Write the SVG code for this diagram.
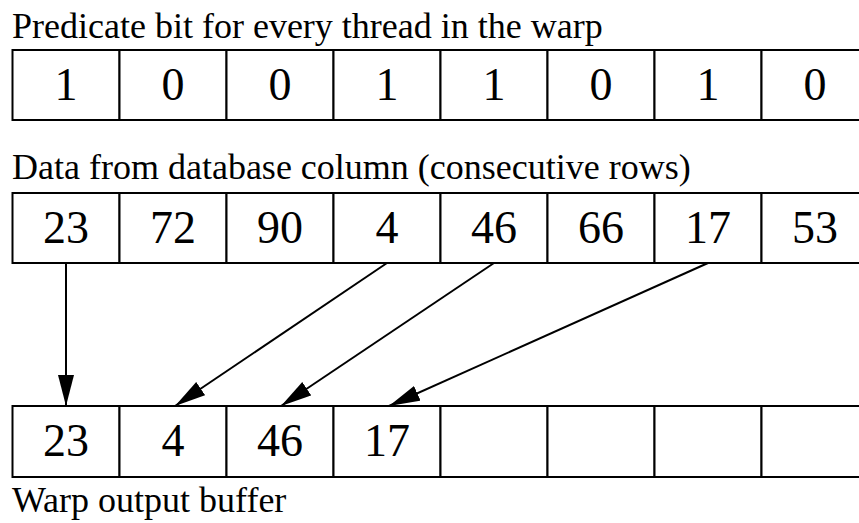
<svg xmlns="http://www.w3.org/2000/svg" width="859" height="523" viewBox="0 0 859 523">
  <style>
    .cell { fill: #ffffff; stroke: #000000; stroke-width: 2; }
    .val { font-family: "Liberation Serif", "Times New Roman", serif; font-size: 46px; fill: #000000; text-anchor: middle; }
    .cap { font-family: "Liberation Serif", "Times New Roman", serif; font-size: 36px; fill: #000000; }
    .edge { stroke: #000000; stroke-width: 2; fill: none; marker-end: url(#head); }
  </style>
  <defs>
    <marker id="head" markerUnits="userSpaceOnUse" markerWidth="32" markerHeight="18" refX="31" refY="8" orient="auto">
      <path d="M0,0 L31,8 L0,16 Z" fill="#000000"/>
    </marker>
  </defs>
  <rect width="859" height="523" fill="#ffffff"/>

  <!-- predicate row -->
  <g id="predicate">
    <text class="cap" x="12" y="38">Predicate bit for every thread in the warp</text>
    <rect class="cell" x="12.5" y="50" width="107" height="70"/>
    <rect class="cell" x="119.5" y="50" width="107" height="70"/>
    <rect class="cell" x="226.5" y="50" width="107" height="70"/>
    <rect class="cell" x="333.5" y="50" width="107" height="70"/>
    <rect class="cell" x="440.5" y="50" width="107" height="70"/>
    <rect class="cell" x="547.5" y="50" width="107" height="70"/>
    <rect class="cell" x="654.5" y="50" width="107" height="70"/>
    <rect class="cell" x="761.5" y="50" width="107" height="70"/>
    <text class="val" x="66" y="100">1</text>
    <text class="val" x="173" y="100">0</text>
    <text class="val" x="280" y="100">0</text>
    <text class="val" x="387" y="100">1</text>
    <text class="val" x="494" y="100">1</text>
    <text class="val" x="601" y="100">0</text>
    <text class="val" x="708" y="100">1</text>
    <text class="val" x="815" y="100">0</text>
  </g>

  <!-- data row -->
  <g id="data">
    <text class="cap" x="12" y="179">Data from database column (consecutive rows)</text>
    <rect class="cell" x="12.5" y="193" width="107" height="70"/>
    <rect class="cell" x="119.5" y="193" width="107" height="70"/>
    <rect class="cell" x="226.5" y="193" width="107" height="70"/>
    <rect class="cell" x="333.5" y="193" width="107" height="70"/>
    <rect class="cell" x="440.5" y="193" width="107" height="70"/>
    <rect class="cell" x="547.5" y="193" width="107" height="70"/>
    <rect class="cell" x="654.5" y="193" width="107" height="70"/>
    <rect class="cell" x="761.5" y="193" width="107" height="70"/>
    <text class="val" x="66" y="243">23</text>
    <text class="val" x="173" y="243">72</text>
    <text class="val" x="280" y="243">90</text>
    <text class="val" x="387" y="243">4</text>
    <text class="val" x="494" y="243">46</text>
    <text class="val" x="601" y="243">66</text>
    <text class="val" x="708" y="243">17</text>
    <text class="val" x="815" y="243">53</text>
  </g>

  <!-- output buffer row -->
  <g id="output">
    <rect class="cell" x="12.5" y="406" width="107" height="71"/>
    <rect class="cell" x="119.5" y="406" width="107" height="71"/>
    <rect class="cell" x="226.5" y="406" width="107" height="71"/>
    <rect class="cell" x="333.5" y="406" width="107" height="71"/>
    <rect class="cell" x="440.5" y="406" width="107" height="71"/>
    <rect class="cell" x="547.5" y="406" width="107" height="71"/>
    <rect class="cell" x="654.5" y="406" width="107" height="71"/>
    <rect class="cell" x="761.5" y="406" width="107" height="71"/>
    <text class="val" x="66" y="456">23</text>
    <text class="val" x="173" y="456">4</text>
    <text class="val" x="280" y="456">46</text>
    <text class="val" x="387" y="456">17</text>
    <text class="cap" x="12" y="512">Warp output buffer</text>
  </g>

  <!-- compaction arrows -->
  <g id="connectors">
    <line class="edge" x1="66" y1="263" x2="66" y2="406"/>
    <line class="edge" x1="387" y1="263" x2="175" y2="406"/>
    <line class="edge" x1="494" y1="263" x2="281" y2="406"/>
    <line class="edge" x1="708" y1="263" x2="389" y2="406"/>
  </g>
</svg>
